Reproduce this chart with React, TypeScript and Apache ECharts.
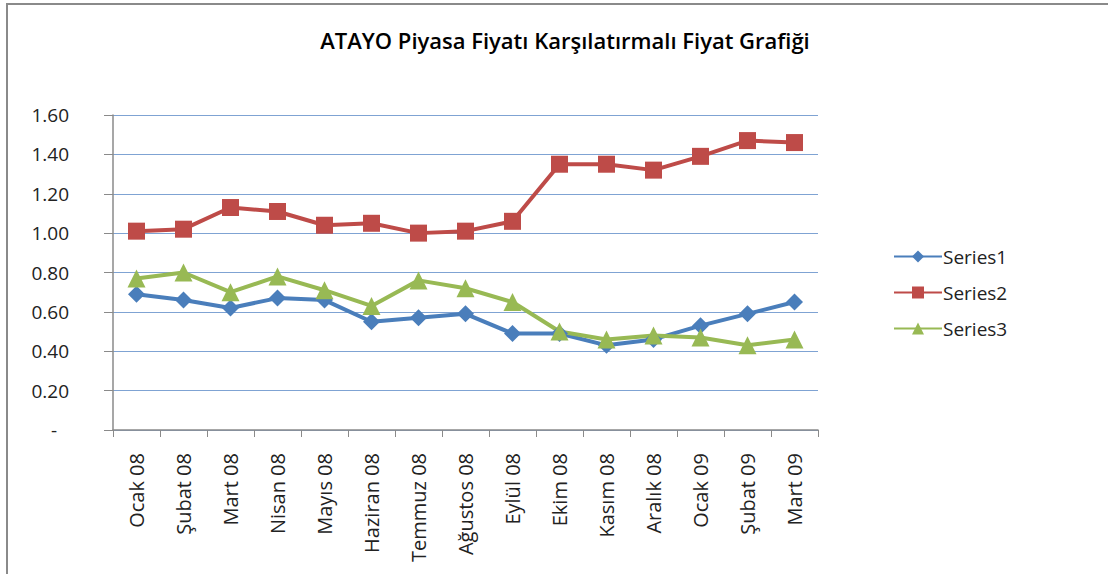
import React, { useEffect, useRef } from "react";
import * as echarts from "echarts";

const categories = [
  "Ocak 08", "Şubat 08", "Mart 08", "Nisan 08", "Mayıs 08", "Haziran 08", "Temmuz 08",
  "Ağustos 08", "Eylül 08", "Ekim 08", "Kasım 08", "Aralık 08", "Ocak 09", "Şubat 09", "Mart 09",
];
const series1 = [0.69, 0.66, 0.62, 0.67, 0.66, 0.55, 0.57, 0.59, 0.49, 0.49, 0.43, 0.46, 0.53, 0.59, 0.65];
const series2 = [1.01, 1.02, 1.13, 1.11, 1.04, 1.05, 1.0, 1.01, 1.06, 1.35, 1.35, 1.32, 1.39, 1.47, 1.46];
const series3 = [0.77, 0.8, 0.7, 0.78, 0.71, 0.63, 0.76, 0.72, 0.65, 0.5, 0.46, 0.48, 0.47, 0.43, 0.46];
const seriesNames = ["Series1", "Series2", "Series3"];
const colors = ["#4A7EBB", "#BE4B48", "#98B954"];

const FONT = "'Open Sans', Lato, sans-serif";

export default function App() {
  const ref = useRef<HTMLDivElement>(null);
  useEffect(() => {
    document.body.style.margin = "0";
    const chart = echarts.init(ref.current!, null, { renderer: "svg" });
    const mk = (name: string, data: number[], color: string, symbol: string, size: number) => ({
      name,
      type: "line",
      data,
      symbol,
      symbolSize: size,
      showAllSymbol: true,
      lineStyle: { color, width: 4 },
      itemStyle: { color },
    });
    chart.setOption({
      animation: false,
      textStyle: { fontFamily: FONT },
      title: {
        text: "ATAYO Piyasa Fiyatı Karşılatırmalı Fiyat Grafiği",
        left: 560,
        textAlign: "center",
        top: 24,
        textStyle: { fontFamily: FONT, fontSize: 22, fontWeight: 600, color: "#000" },
      },
      graphic: [
        { type: "line", shape: { x1: 6, y1: 4, x2: 1108, y2: 4 }, style: { stroke: "#8a8a8a", lineWidth: 2 } },
        { type: "line", shape: { x1: 7, y1: 3, x2: 7, y2: 574 }, style: { stroke: "#8a8a8a", lineWidth: 2 } },
      ],
      legend: {
        orient: "vertical",
        left: 888,
        top: 242,
        itemWidth: 48,
        itemHeight: 15,
        itemGap: 17,
        data: seriesNames,
        textStyle: { fontFamily: FONT, fontSize: 19, color: "#222", padding: [0, 0, 0, -4] },
      },
      grid: { left: 113, right: 290, top: 115, bottom: 144 },
      xAxis: {
        type: "category",
        data: categories,
        boundaryGap: true,
        axisLine: { lineStyle: { color: "#8a8a8a", width: 1.5 } },
        axisTick: { show: true, length: 7, lineStyle: { color: "#8a8a8a" } },
        axisLabel: { rotate: 90, margin: 23, fontSize: 20, color: "#222", fontFamily: FONT, interval: 0 },
      },
      yAxis: {
        type: "value",
        min: 0,
        max: 1.6,
        interval: 0.2,
        axisLine: { show: true, lineStyle: { color: "#8a8a8a", width: 1.5 } },
        axisTick: { show: true, length: 9, lineStyle: { color: "#8a8a8a" } },
        splitLine: { lineStyle: { color: "#7FA3D3", width: 1 } },
        axisLabel: {
          margin: 44,
          fontSize: 19,
          color: "#222",
          fontFamily: FONT,
          formatter: (v: number) => (v === 0 ? "{z|-}" : v.toFixed(2)),
          rich: { z: { fontSize: 19, color: "#222", padding: [0, 12, 0, 0] } },
        },
      },
      series: [
        mk(seriesNames[0], series1, colors[0], "diamond", 17),
        mk(seriesNames[1], series2, colors[1], "rect", 17),
        mk(seriesNames[2], series3, colors[2], "triangle", 18),
      ],
    });
    return () => chart.dispose();
  }, []);
  return <div ref={ref} style={{ width: 1108, height: 574, background: "#fff" }} />;
}
